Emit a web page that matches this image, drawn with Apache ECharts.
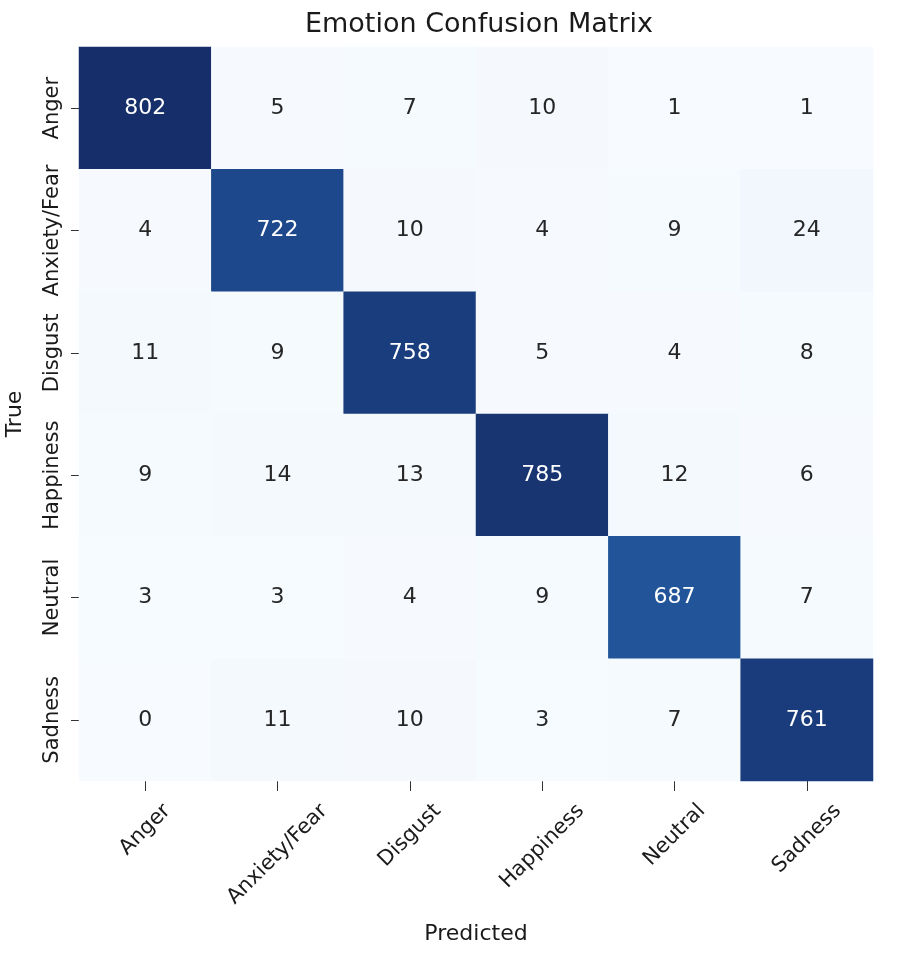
<!DOCTYPE html>
<html>
<head>
<meta charset="utf-8">
<title>Emotion Confusion Matrix</title>
<script src="https://cdn.jsdelivr.net/npm/echarts@6/dist/echarts.min.js"></script>
<style>
    html, body { margin: 0; padding: 0; background: #fff; }
    #main { width: 904px; height: 956px; }
</style>
</head>
<body>
<div id="main"></div>
<script>
// 类别（预测 / 真实共用）
const emotions = ['Anger', 'Anxiety/Fear', 'Disgust', 'Happiness', 'Neutral', 'Sadness'];
// 每一行 = 真实类别，每一列 = 预测类别
const angerRow     = [802, 5, 7, 10, 1, 1];
const anxietyRow   = [4, 722, 10, 4, 9, 24];
const disgustRow   = [11, 9, 758, 5, 4, 8];
const happinessRow = [9, 14, 13, 785, 12, 6];
const neutralRow   = [3, 3, 4, 9, 687, 7];
const sadnessRow   = [0, 11, 10, 3, 7, 761];
const matrix = [angerRow, anxietyRow, disgustRow, happinessRow, neutralRow, sadnessRow];

(function () {
    const FONT = 'DejaVu Sans';
    const tickSize = 21;
    let myChart = echarts.init(document.getElementById('main'));

    // 热力图数据 [x, y, value]
    let maxVal = 0;
    let data = [];
    matrix.forEach(function (row, y) {
        row.forEach(function (v, x) {
            maxVal = Math.max(maxVal, v);
            data.push([x, y, v]);
        });
    });
    data = data.map(function (d) {
        return {
            value: d,
            label: { color: d[2] > maxVal * 0.5 ? '#ffffff' : '#262626' }
        };
    });

    // 模仿 matplotlib 的 45 度标签：旋转后包围盒顶部对齐、水平居中
    // 文字沿自身方向左移 a、垂直方向下移 a，合起来正好是竖直向下
    let ctx = document.createElement('canvas').getContext('2d');
    ctx.font = tickSize + 'px "' + FONT + '"';
    let xCats = emotions.map(function (name) {
        let w = ctx.measureText(name).width;
        let a = (w + tickSize * 1.17) / 4;
        return {
            value: name,
            textStyle: {
                align: 'center',
                verticalAlign: 'top',
                lineHeight: tickSize,
                padding: [Math.max(a - tickSize / 2, 0), 2 * a, 0, 0]
            }
        };
    });

    let option = {
        backgroundColor: '#fff',
        title: {
            text: 'Emotion Confusion Matrix',
            left: 474,
            top: 6,
            textAlign: 'center',
            textStyle: { fontFamily: FONT, fontSize: 27, fontWeight: 'normal', color: '#1a1a1a' }
        },
        grid: { left: 79, right: 31, top: 47, bottom: 175, outerBoundsMode: 'none' },
        xAxis: {
            type: 'category',
            data: xCats,
            name: 'Predicted',
            nameLocation: 'middle',
            nameGap: 142,
            nameTextStyle: { fontFamily: FONT, fontSize: 22, color: '#1a1a1a', verticalAlign: 'top' },
            axisLine: { show: false },
            axisTick: { show: true, alignWithLabel: true, length: 10, lineStyle: { color: '#333' } },
            splitLine: { show: false },
            axisLabel: {
                interval: 0,
                rotate: 45,
                margin: 18,
                fontFamily: FONT,
                fontSize: tickSize,
                color: '#1a1a1a'
            }
        },
        yAxis: {
            type: 'category',
            data: emotions,
            inverse: true,
            name: 'True',
            nameLocation: 'middle',
            nameGap: 53,
            nameTextStyle: { fontFamily: FONT, fontSize: 22, color: '#1a1a1a' },
            axisLine: { show: false },
            axisTick: { show: true, alignWithLabel: true, length: 8, lineStyle: { color: '#333' } },
            splitLine: { show: false },
            axisLabel: {
                interval: 0,
                rotate: 90,
                align: 'center',
                verticalAlign: 'bottom',
                margin: 16,
                fontFamily: FONT,
                fontSize: tickSize,
                color: '#1a1a1a'
            }
        },
        visualMap: {
            show: false,
            min: 0,
            max: maxVal,
            calculable: false,
            // Blues 色带
            inRange: {
                color: ['#f7fbff', '#deebf7', '#c6dbef', '#9ecae1', '#6baed6',
                        '#4292c6', '#2a6fb0', '#1f4f95', '#162f6a']
            }
        },
        series: [{
            type: 'heatmap',
            data: data,
            label: {
                show: true,
                fontFamily: FONT,
                fontSize: 22,
                formatter: function (p) { return p.value[2]; }
            },
            itemStyle: { borderWidth: 0 },
            emphasis: { disabled: true }
        }]
    };
    myChart.setOption(option);

    window.addEventListener('resize', function () {
        myChart.resize();
    });
})();
</script>
</body>
</html>
